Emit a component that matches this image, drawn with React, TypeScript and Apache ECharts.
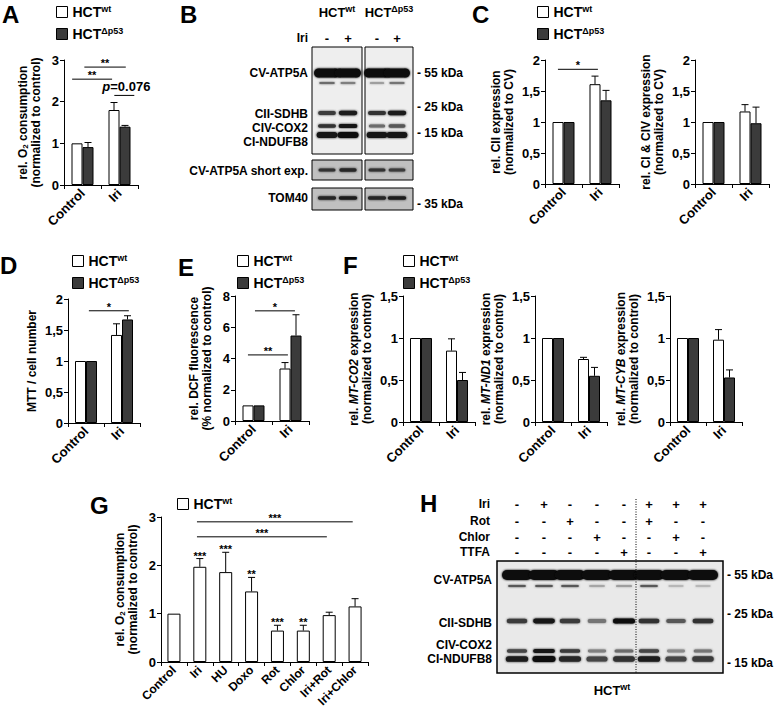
import React, { useEffect, useRef } from 'react';
import * as echarts from 'echarts';

const FONT = '"Liberation Sans", Arial, Helvetica, sans-serif';
const DARK = '#3b3b3b';

// ---------- data ----------
const catsTwo = ['Control', 'Iri'];

// A: O2 consumption
const aWt = [1.0, 1.8];
const aWtErr = [0, 0.18];
const aP53 = [0.91, 1.4];
const aP53Err = [0.11, 0.03];

// C: CII expression
const cIIWt = [1.0, 1.61];
const cIIWtErr = [0, 0.13];
const cIIP53 = [1.0, 1.35];
const cIIP53Err = [0, 0.16];
// C: CI & CIV expression
const cIVWt = [1.0, 1.17];
const cIVWtErr = [0, 0.11];
const cIVP53 = [1.0, 0.98];
const cIVP53Err = [0, 0.26];

// D: MTT / cell number
const dWt = [1.0, 1.42];
const dWtErr = [0, 0.18];
const dP53 = [1.0, 1.67];
const dP53Err = [0, 0.06];

// E: DCF fluorescence
const eWt = [1.0, 3.36];
const eWtErr = [0, 0.38];
const eP53 = [1.0, 5.47];
const eP53Err = [0, 1.33];

// F: MT-CO2, MT-ND1, MT-CYB
const fCO2Wt = [1.0, 0.85];
const fCO2WtErr = [0, 0.14];
const fCO2P53 = [1.0, 0.5];
const fCO2P53Err = [0, 0.09];
const fND1Wt = [1.0, 0.75];
const fND1WtErr = [0, 0.02];
const fND1P53 = [1.0, 0.55];
const fND1P53Err = [0, 0.1];
const fCYBWt = [1.0, 0.98];
const fCYBWtErr = [0, 0.12];
const fCYBP53 = [1.0, 0.53];
const fCYBP53Err = [0, 0.09];

// G: O2 consumption, treatments
const gCats = ['Control', 'Iri', 'HU', 'Doxo', 'Rot', 'Chlor', 'Iri+Rot', 'Iri+Chlor'];
const gVals = [1.0, 1.97, 1.86, 1.46, 0.65, 0.65, 0.97, 1.15];
const gErr = [0, 0.17, 0.41, 0.29, 0.11, 0.11, 0.06, 0.16];
const gStars = ['', '***', '***', '**', '***', '**', '', ''];

// significance brackets (x in category units, 0 = first category centre)
const sigA = [
  { x1: -0.28, x2: 0.8, y: 2.54, t: '**' },
  { x1: 0.05, x2: 1.17, y: 2.83, t: '**' },
  { x1: 0.86, x2: 1.4, y: 2.15, t: '{i|p}=0.076', big: true },
];
const sigC = [{ x1: -0.15, x2: 0.93, y: 1.85, t: '*' }];
const sigD = [{ x1: 0.08, x2: 1.19, y: 1.81, t: '*' }];
const sigE = [
  { x1: -0.15, x2: 0.93, y: 4.23, t: '**' },
  { x1: 0.04, x2: 1.12, y: 7.05, t: '*' },
];
const sigG = [
  { x1: 0.89, x2: 6.91, y: 2.9, t: '***' },
  { x1: 0.89, x2: 5.91, y: 2.59, t: '***' },
];

// western blot B: lanes and band intensities
const bIri = ['-', '+', '-', '+'];
const bATP5A = [1, 1, 1, 1];
const bATP5Afaint = [0.5, 0.4, 0.3, 0.45];
const bSDHB = [0.75, 0.9, 0.8, 0.9];
const bCOX2 = [0.8, 0.95, 0.5, 0.6];
const bNDUFB8 = [0.95, 1, 0.95, 0.95];
const bShort = [0.8, 0.85, 0.8, 0.75];
const bTOM40 = [0.85, 0.9, 0.85, 0.9];

// western blot H
const hIri = ['-', '+', '-', '-', '-', '+', '+', '+'];
const hRot = ['-', '-', '+', '-', '-', '+', '-', '-'];
const hChlor = ['-', '-', '-', '+', '-', '-', '+', '-'];
const hTTFA = ['-', '-', '-', '-', '+', '-', '-', '+'];
const hATP5A = [1, 1, 1, 1, 1, 1, 1, 1];
const hATP5Afaint = [0.6, 0.6, 0.6, 0.25, 0.3, 0.6, 0.15, 0.15];
const hSDHB = [0.75, 0.95, 0.75, 0.45, 1.0, 0.8, 0.6, 0.8];
const hCOX2 = [0.7, 0.95, 0.75, 0.4, 0.5, 0.7, 0.35, 0.45];
const hNDUFB8 = [0.9, 1.0, 0.85, 0.7, 0.8, 0.9, 0.7, 0.75];

// ---------- panel table ----------
const panels: any[] = [
  {
    grid: { left: 64, top: 60, width: 74, height: 125 }, cats: catsTwo, max: 3, interval: 1, barWidth: 11,
    series: [{ name: 'wt', data: aWt, err: aWtErr }, { name: 'dp53', data: aP53, err: aP53Err }],
    title: 'rel. O{sub|2} consumption\n(normalized to control)', nameGap: 22, sig: sigA,
  },
  {
    grid: { left: 545, top: 60, width: 74, height: 124 }, cats: catsTwo, max: 2, interval: 0.5, barWidth: 11,
    series: [{ name: 'wt', data: cIIWt, err: cIIWtErr }, { name: 'dp53', data: cIIP53, err: cIIP53Err }],
    title: 'rel. CII expression\n(normalized to CV)', nameGap: 30, sig: sigC,
  },
  {
    grid: { left: 695, top: 60, width: 74, height: 124 }, cats: catsTwo, max: 2, interval: 0.5, barWidth: 11,
    series: [{ name: 'wt', data: cIVWt, err: cIVWtErr }, { name: 'dp53', data: cIVP53, err: cIVP53Err }],
    title: 'rel. CI & CIV expression\n(normalized to CV)', nameGap: 30,
  },
  {
    grid: { left: 68, top: 299, width: 72, height: 124 }, cats: catsTwo, max: 2, interval: 0.5, barWidth: 11,
    series: [{ name: 'wt', data: dWt, err: dWtErr }, { name: 'dp53', data: dP53, err: dP53Err }],
    title: 'MTT / cell number', nameGap: 30, sig: sigD,
  },
  {
    grid: { left: 235, top: 296, width: 74, height: 125 }, cats: catsTwo, max: 8, interval: 2, barWidth: 11,
    series: [{ name: 'wt', data: eWt, err: eWtErr }, { name: 'dp53', data: eP53, err: eP53Err }],
    title: 'rel. DCF fluorescence\n(% normalized to control)', nameGap: 22, sig: sigE,
  },
  {
    grid: { left: 403, top: 296, width: 72, height: 126 }, cats: catsTwo, max: 1.5, interval: 0.5, barWidth: 11,
    series: [{ name: 'wt', data: fCO2Wt, err: fCO2WtErr }, { name: 'dp53', data: fCO2P53, err: fCO2P53Err }],
    title: 'rel. {i|MT-CO2} expression\n(normalized to control)', nameGap: 30,
  },
  {
    grid: { left: 535, top: 296, width: 72, height: 126 }, cats: catsTwo, max: 1.5, interval: 0.5, barWidth: 11,
    series: [{ name: 'wt', data: fND1Wt, err: fND1WtErr }, { name: 'dp53', data: fND1P53, err: fND1P53Err }],
    title: 'rel. {i|MT-ND1} expression\n(normalized to control)', nameGap: 30,
  },
  {
    grid: { left: 670, top: 296, width: 72, height: 126 }, cats: catsTwo, max: 1.5, interval: 0.5, barWidth: 11,
    series: [{ name: 'wt', data: fCYBWt, err: fCYBWtErr }, { name: 'dp53', data: fCYBP53, err: fCYBP53Err }],
    title: 'rel. {i|MT-CYB} expression\n(normalized to control)', nameGap: 30,
  },
  {
    grid: { left: 161, top: 517, width: 207, height: 145 }, cats: gCats, max: 3, interval: 1, barWidth: 13,
    series: [{ name: 'wt', data: gVals, err: gErr, stars: gStars }],
    title: 'rel. O{sub|2} consumption\n(normalized to control)', nameGap: 22, sig: sigG, labelSize: 12,
  },
];

const legendsAt = [
  { left: 56, top: 4, names: ['wt', 'dp53'] },
  { left: 537, top: 4, names: ['wt', 'dp53'] },
  { left: 72, top: 253, names: ['wt', 'dp53'] },
  { left: 237, top: 253, names: ['wt', 'dp53'] },
  { left: 403, top: 253, names: ['wt', 'dp53'] },
  { left: 177, top: 496, names: ['wt'] },
];

const letters = [
  { t: 'A', x: 2, y: 2 }, { t: 'B', x: 180, y: 2 }, { t: 'C', x: 472, y: 2 },
  { t: 'D', x: 0, y: 253 }, { t: 'E', x: 178, y: 255 }, { t: 'F', x: 343, y: 253 },
  { t: 'G', x: 90, y: 493 }, { t: 'H', x: 420, y: 491 },
];

const supRich = {
  b: { fontSize: 14, fontWeight: 'bold', fontFamily: FONT, color: '#000', lineHeight: 16 },
  s: { fontSize: 9, fontWeight: 'bold', fontFamily: FONT, color: '#000', verticalAlign: 'top', lineHeight: 16 },
};

// ---------- helpers ----------
function txt(text: string, x: number, y: number, size: number, align: string, valign: string, extra: any = {}) {
  return {
    type: 'text', x, y, silent: true,
    style: {
      text, fill: '#000', fontSize: size, fontWeight: 'bold', fontFamily: FONT,
      align, textAlign: align, verticalAlign: valign, textVerticalAlign: valign, ...extra,
    },
  };
}

function bandColor(v: number) {
  const g = Math.round(205 - 195 * v);
  return `rgb(${g},${g},${g})`;
}

function bands(laneX: number[], vals: number[], y: number, h: number, w: number) {
  return vals.map((v, i) => {
    const ww = w * (0.72 + 0.28 * v);
    const hh = h * (0.55 + 0.45 * v);
    const c = bandColor(v);
    return {
      type: 'rect', silent: true,
      shape: { x: laneX[i] - ww / 2, y: y - hh / 2, width: ww, height: hh, r: hh / 2 },
      style: { fill: c, shadowBlur: 2, shadowColor: c },
    };
  });
}

function blotB() {
  const laneX = [327, 348, 377, 397];
  const boxes = [[312, 362], [365, 413]];
  const rows = [
    { y0: 47, y1: 154, bg: '#eeeeee' },
    { y0: 160, y1: 180, bg: '#c0c0c0' },
    { y0: 188, y1: 210, bg: '#c0c0c0' },
  ];
  const els: any[] = [];
  rows.forEach((r) =>
    boxes.forEach((b) =>
      els.push({
        type: 'rect', silent: true,
        shape: { x: b[0], y: r.y0, width: b[1] - b[0], height: r.y1 - r.y0 },
        style: { fill: r.bg, stroke: '#000', lineWidth: 1 },
      })
    )
  );
  els.push(...bands(laneX, bATP5A, 73, 9, 26));
  els.push(...bands(laneX, bATP5Afaint, 83, 2.5, 18));
  els.push(...bands(laneX, bSDHB, 113, 4.5, 19));
  els.push(...bands(laneX, bCOX2, 126, 4, 19));
  els.push(...bands(laneX, bNDUFB8, 135, 6, 21));
  els.push(...bands(laneX, bShort, 170, 3.5, 18));
  els.push(...bands(laneX, bTOM40, 198, 3.5, 19));
  els.push(txt('HCT{s|wt}', 337, 12, 13, 'center', 'middle', { rich: supRich }));
  els.push(txt('HCT{s|Δp53}', 389, 12, 13, 'center', 'middle', { rich: supRich }));
  els.push(txt('Iri', 308, 38, 12, 'right', 'middle'));
  bIri.forEach((s, i) => els.push(txt(s, laneX[i], 38, 13, 'center', 'middle')));
  const lab = [
    ['CV-ATP5A', 73], ['CII-SDHB', 114], ['CIV-COX2', 128], ['CI-NDUFB8', 142],
    ['CV-ATP5A short exp.', 171], ['TOM40', 198],
  ];
  lab.forEach((l: any) => els.push(txt(l[0], 308, l[1], 12, 'right', 'middle')));
  const kda = [['- 55 kDa', 73], ['- 25 kDa', 107], ['- 15 kDa', 133], ['- 35 kDa', 204]];
  kda.forEach((k: any) => els.push(txt(k[0], 417, k[1], 12, 'left', 'middle')));
  return els;
}

function blotH() {
  const laneX = [517, 544, 570, 597, 624, 649, 676, 703];
  const els: any[] = [];
  els.push({
    type: 'rect', silent: true,
    shape: { x: 497, y: 561, width: 226, height: 112 },
    style: { fill: '#e9e9e9', stroke: '#000', lineWidth: 1.5 },
  });
  els.push(...bands(laneX, hATP5A, 575, 10, 30));
  els.push(...bands(laneX, hATP5Afaint, 586, 2.5, 20));
  els.push(...bands(laneX, hSDHB, 621, 5, 22));
  els.push(...bands(laneX, hCOX2, 651, 4, 22));
  els.push(...bands(laneX, hNDUFB8, 659, 6, 23));
  els.push({
    type: 'line', silent: true,
    shape: { x1: 636, y1: 499, x2: 636, y2: 673 },
    style: { stroke: '#000', lineWidth: 1, lineDash: [1, 1.5] },
  });
  const treat = [['Iri', hIri, 504], ['Rot', hRot, 521], ['Chlor', hChlor, 537], ['TTFA', hTTFA, 552]];
  treat.forEach((t: any) => {
    els.push(txt(t[0], 490, t[2], 12, 'right', 'middle'));
    t[1].forEach((s: string, i: number) => els.push(txt(s, laneX[i], t[2], 13, 'center', 'middle')));
  });
  const lab = [['CV-ATP5A', 580], ['CII-SDHB', 623], ['CIV-COX2', 645], ['CI-NDUFB8', 659]];
  lab.forEach((l: any) => els.push(txt(l[0], 492, l[1], 12, 'right', 'middle')));
  const kda = [['- 55 kDa', 575], ['- 25 kDa', 614], ['- 15 kDa', 663]];
  kda.forEach((k: any) => els.push(txt(k[0], 727, k[1], 12, 'left', 'middle')));
  els.push(txt('HCT{s|wt}', 612, 690, 13, 'center', 'middle', { rich: supRich }));
  return els;
}

function errRender(vals: number[], errs: number[], offset: number, stars?: string[]) {
  return (params: any, api: any) => {
    const k = params.dataIndex;
    const e = errs[k];
    const base = api.coord([k, vals[k]]);
    const top = api.coord([k, vals[k] + e]);
    const x = base[0] + offset;
    const children: any[] = [];
    if (e > 0) {
      children.push({ type: 'line', shape: { x1: x, y1: base[1], x2: x, y2: top[1] }, style: { stroke: '#000', lineWidth: 1 } });
      children.push({ type: 'line', shape: { x1: x - 3.5, y1: top[1], x2: x + 3.5, y2: top[1] }, style: { stroke: '#000', lineWidth: 1 } });
    }
    if (stars && stars[k]) {
      children.push({
        type: 'text', x, y: top[1] - 3,
        style: { text: stars[k], fill: '#000', fontSize: 11, fontWeight: 'bold', fontFamily: FONT, align: 'center', textAlign: 'center', verticalAlign: 'middle', textVerticalAlign: 'middle' },
      });
    }
    return { type: 'group', children };
  };
}

function sigRender(sig: any[]) {
  return (params: any, api: any) => {
    const s = sig[params.dataIndex];
    const c0 = api.coord([0, s.y]);
    const bw = api.size([1, 0])[0];
    const x1 = c0[0] + s.x1 * bw;
    const x2 = c0[0] + s.x2 * bw;
    const y = c0[1];
    const tx = (x1 + x2) / 2 + (s.big ? 2 : 0);
    return {
      type: 'group',
      children: [
        { type: 'line', shape: { x1, y1: y, x2, y2: y }, style: { stroke: '#000', lineWidth: 1 } },
        {
          type: 'text', x: tx, y: s.big ? y - 9 : y - 4,
          style: {
            text: s.t, fill: '#000', fontSize: s.big ? 13 : 11, fontWeight: 'bold', fontFamily: FONT,
            align: 'center', textAlign: 'center', verticalAlign: 'middle', textVerticalAlign: 'middle',
            rich: { i: { fontStyle: 'italic', fontWeight: 'bold', fontSize: 13, fontFamily: FONT, color: '#000' } },
          },
        },
      ],
    };
  };
}

function buildOption() {
  const grid: any[] = [];
  const xAxis: any[] = [];
  const yAxis: any[] = [];
  const series: any[] = [];
  panels.forEach((p, i) => {
    grid.push({ ...p.grid, containLabel: false });
    xAxis.push({
      type: 'category', gridIndex: i, data: p.cats,
      axisLine: { lineStyle: { color: '#000', width: 1 } },
      axisTick: { show: true, length: 4, lineStyle: { color: '#000' } },
      axisLabel: {
        rotate: 45, interval: 0, margin: 6, color: '#000', fontSize: p.labelSize || 13,
        fontWeight: 'bold', fontFamily: FONT, hideOverlap: false,
      },
      splitLine: { show: false },
    });
    yAxis.push({
      type: 'value', gridIndex: i, min: 0, max: p.max, interval: p.interval,
      splitLine: { show: false },
      axisLine: { show: true, lineStyle: { color: '#000', width: 1 } },
      axisTick: { show: true, length: 4, lineStyle: { color: '#000' } },
      axisLabel: {
        color: '#000', fontSize: 13, fontWeight: 'bold', fontFamily: FONT, margin: 5,
        formatter: (v: number) => String(v).replace('.', ','),
      },
      name: p.title, nameLocation: 'middle', nameRotate: 90, nameGap: p.nameGap,
      nameTextStyle: {
        color: '#000', fontSize: 12, fontWeight: 'bold', fontFamily: FONT, lineHeight: 13,
        rich: {
          sub: { fontSize: 8, fontWeight: 'bold', fontFamily: FONT, color: '#000', verticalAlign: 'bottom', lineHeight: 13, padding: [3, 0, 0, 0] },
          i: { fontSize: 12, fontStyle: 'italic', fontWeight: 'bold', fontFamily: FONT, color: '#000', lineHeight: 13 },
        },
      },
    });
    const n = p.series.length;
    p.series.forEach((s: any, si: number) => {
      series.push({
        type: 'bar', name: s.name, xAxisIndex: i, yAxisIndex: i, data: s.data,
        barWidth: p.barWidth, barGap: '0%', silent: true,
        itemStyle: { color: s.name === 'wt' ? '#ffffff' : DARK, borderColor: '#000', borderWidth: 1 },
      });
      const offset = (si - (n - 1) / 2) * p.barWidth;
      series.push({
        type: 'custom', xAxisIndex: i, yAxisIndex: i, silent: true, z: 5, clip: false,
        data: s.data.map((v: number, k: number) => [k, v + s.err[k]]),
        encode: { x: 0, y: 1 },
        renderItem: errRender(s.data, s.err, offset, s.stars),
      });
    });
    if (p.sig) {
      series.push({
        type: 'custom', xAxisIndex: i, yAxisIndex: i, silent: true, z: 5, clip: false,
        data: p.sig.map((s: any) => [0, s.y]),
        encode: { x: 0, y: 1 },
        renderItem: sigRender(p.sig),
      });
    }
  });

  const legend = legendsAt.map((l) => ({
    data: l.names, left: l.left, top: l.top, orient: 'vertical', icon: 'rect', padding: 0,
    itemWidth: 11, itemHeight: 11, itemGap: 7, selectedMode: false,
    itemStyle: { borderColor: '#000', borderWidth: 1 },
    formatter: (name: string) => (name === 'wt' ? '{b|HCT}{s|wt}' : '{b|HCT}{s|Δp53}'),
    textStyle: { rich: supRich },
  }));

  const graphic: any[] = [];
  letters.forEach((l) => graphic.push(txt(l.t, l.x, l.y, 24, 'left', 'top')));
  graphic.push(...blotB());
  graphic.push(...blotH());

  return {
    animation: false,
    backgroundColor: '#ffffff',
    textStyle: { fontFamily: FONT },
    grid, xAxis, yAxis, series, legend, graphic,
  };
}

export default function App() {
  const ref = useRef<HTMLDivElement>(null);
  useEffect(() => {
    document.body.style.margin = '0';
    const chart = echarts.init(ref.current as HTMLDivElement, null, { renderer: 'svg' });
    chart.setOption(buildOption() as any);
    return () => chart.dispose();
  }, []);
  return <div ref={ref} style={{ width: 777, height: 711, background: '#fff' }} />;
}
